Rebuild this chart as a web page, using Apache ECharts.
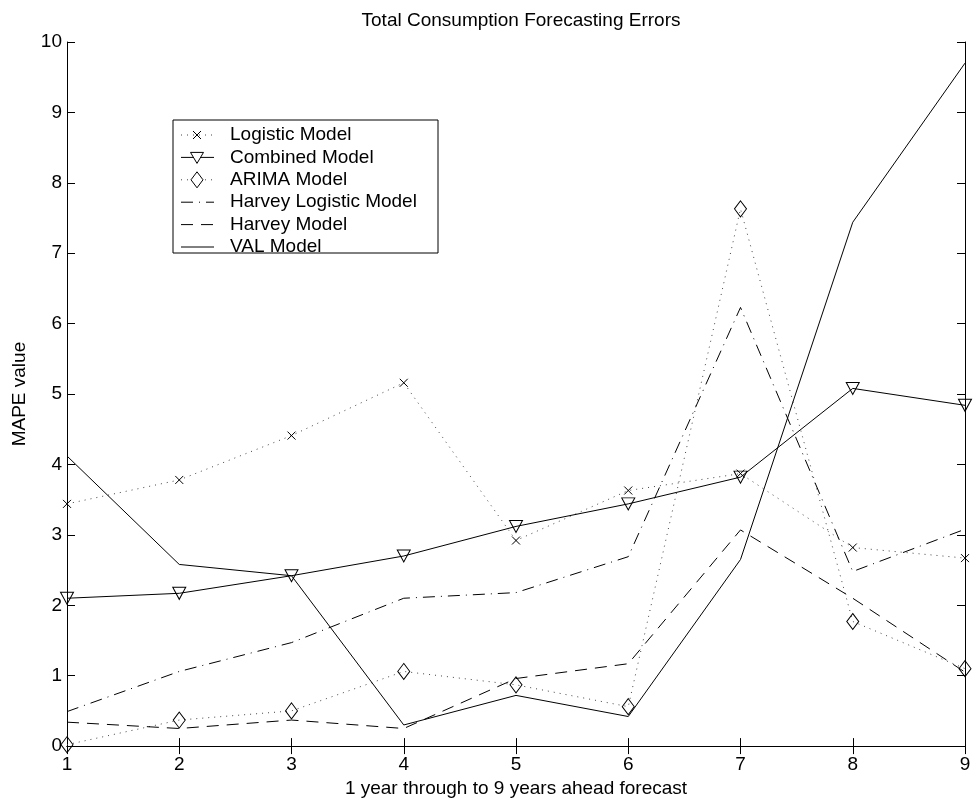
<!DOCTYPE html>
<html>
<head>
<meta charset="utf-8">
<script src="https://cdn.jsdelivr.net/npm/echarts@6/dist/echarts.min.js"></script>
<style>
html,body{margin:0;padding:0;background:#fff;}
#main{width:976px;height:803px;}
</style>
</head>
<body>
<div id="main"></div>
<script>
var xValues = [1, 2, 3, 4, 5, 6, 7, 8, 9];
var logistic = [3.44, 3.78, 4.41, 5.16, 2.92, 3.63, 3.87, 2.82, 2.67];
var combined = [2.10, 2.17, 2.42, 2.70, 3.12, 3.44, 3.82, 5.08, 4.84];
var arima = [0.02, 0.37, 0.50, 1.06, 0.87, 0.56, 7.63, 1.77, 1.10];
var harveyLogistic = [0.49, 1.06, 1.47, 2.10, 2.18, 2.69, 6.23, 2.48, 3.08];
var harvey = [0.34, 0.25, 0.37, 0.25, 0.96, 1.17, 3.07, 2.10, 1.05];
var val = [4.12, 2.58, 2.42, 0.30, 0.72, 0.42, 2.65, 7.44, 9.70];
var seriesNames = ['Logistic Model', 'Combined Model', 'ARIMA Model', 'Harvey Logistic Model', 'Harvey Model', 'VAL Model'];

function pairs(arr) { return xValues.map(function (x, i) { return [x, arr[i]]; }); }

var FONT = 'Liberation Sans, Arial, sans-serif';
var crossPath = 'path://M0,0 L10,10 M10,0 L0,10';
var triPath = 'path://M0,0 L10,0 L5,9 Z';

var styles = [
  { dash: [1, 5], color: '#444', symbol: crossPath, size: 8 },
  { dash: 'solid', color: '#000', symbol: triPath, size: [13, 12] },
  { dash: [1, 5], color: '#444', symbol: 'diamond', size: [12, 16] },
  { dash: [12, 6, 1, 6], color: '#000', symbol: 'none', size: 0 },
  { dash: [12, 8], color: '#000', symbol: 'none', size: 0 },
  { dash: 'solid', color: '#000', symbol: 'none', size: 0 }
];
var dataSets = [logistic, combined, arima, harveyLogistic, harvey, val];

var series = seriesNames.map(function (name, i) {
  var s = styles[i];
  return {
    name: name, type: 'line', data: pairs(dataSets[i]),
    symbol: s.symbol, symbolSize: s.size, showSymbol: s.symbol !== 'none',
    lineStyle: { color: s.color, width: 1, type: s.dash },
    itemStyle: { color: 'rgba(0,0,0,0)', borderColor: '#000', borderWidth: 1 },
    emphasis: { disabled: true }, animation: false, z: 3
  };
});

// Legend drawn as a boxed key (MATLAB-style)
var LX = 173, LY = 120, LW = 265, LH = 133, ROW = 22.4;
var legendEls = [{
  type: 'rect', shape: { x: LX, y: LY, width: LW, height: LH },
  style: { fill: '#fff', stroke: '#000', lineWidth: 1 }, z: 10
}];
seriesNames.forEach(function (name, i) {
  var s = styles[i];
  var cy = LY + 15 + i * ROW;
  var cx = 197;
  legendEls.push({
    type: 'line', shape: { x1: 181, y1: cy, x2: 214, y2: cy },
    style: { stroke: s.color, lineWidth: 1, lineDash: s.dash === 'solid' ? null : s.dash }, z: 11
  });
  if (i === 0) {
    legendEls.push({ type: 'polyline', shape: { points: [[cx - 4, cy - 4], [cx + 4, cy + 4]] }, style: { stroke: '#000', lineWidth: 1, fill: null }, z: 12 });
    legendEls.push({ type: 'polyline', shape: { points: [[cx + 4, cy - 4], [cx - 4, cy + 4]] }, style: { stroke: '#000', lineWidth: 1, fill: null }, z: 12 });
  } else if (i === 1) {
    legendEls.push({ type: 'polygon', shape: { points: [[cx - 6.5, cy - 5], [cx + 6.5, cy - 5], [cx, cy + 6]] }, style: { stroke: '#000', lineWidth: 1, fill: '#fff' }, z: 12 });
  } else if (i === 2) {
    legendEls.push({ type: 'polygon', shape: { points: [[cx, cy - 8], [cx + 6, cy], [cx, cy + 8], [cx - 6, cy]] }, style: { stroke: '#000', lineWidth: 1, fill: '#fff' }, z: 12 });
  }
  legendEls.push({
    type: 'text', x: 230, y: cy,
    style: { text: name, fontFamily: FONT, fontSize: 19, fill: '#000', textVerticalAlign: 'middle', verticalAlign: 'middle' }, z: 12
  });
});

var chart = echarts.init(document.getElementById('main'));
chart.setOption({
  backgroundColor: '#fff',
  animation: false,
  title: { text: 'Total Consumption Forecasting Errors', left: 516, top: 6, textAlign: 'center',
    textStyle: { fontFamily: FONT, fontSize: 19, fontWeight: 'normal', color: '#000' } },
  grid: { left: 67, right: 11, top: 42, bottom: 55, show: false },
  xAxis: [{
    type: 'value', min: 1, max: 9, interval: 1, position: 'bottom',
    name: '1 year through to 9 years ahead forecast', nameLocation: 'middle', nameGap: 32,
    nameTextStyle: { fontFamily: FONT, fontSize: 19, color: '#000' },
    axisLine: { show: true, lineStyle: { color: '#000', width: 1 } },
    axisTick: { show: true, inside: true, length: 8, lineStyle: { color: '#000' } },
    axisLabel: { fontFamily: FONT, fontSize: 19, color: '#000', margin: 9 },
    splitLine: { show: false }
  }, {
    type: 'value', min: 1, max: 9, interval: 1, position: 'top',
    axisLine: { show: true, lineStyle: { color: '#000', width: 1 } },
    axisTick: { show: true, inside: true, length: 8, lineStyle: { color: '#000' } },
    axisLabel: { show: false }, splitLine: { show: false }
  }],
  yAxis: [{
    type: 'value', min: 0, max: 10, interval: 1, position: 'left',
    name: 'MAPE value', nameLocation: 'middle', nameGap: 38, nameRotate: 90,
    nameTextStyle: { fontFamily: FONT, fontSize: 19, color: '#000' },
    axisLine: { show: true, lineStyle: { color: '#000', width: 1 } },
    axisTick: { show: true, inside: true, length: 8, lineStyle: { color: '#000' } },
    axisLabel: { fontFamily: FONT, fontSize: 19, color: '#000', margin: 5 },
    splitLine: { show: false }
  }, {
    type: 'value', min: 0, max: 10, interval: 1, position: 'right',
    axisLine: { show: true, lineStyle: { color: '#000', width: 1 } },
    axisTick: { show: true, inside: true, length: 8, lineStyle: { color: '#000' } },
    axisLabel: { show: false }, splitLine: { show: false }
  }],
  graphic: legendEls,
  series: series
});
</script>
</body>
</html>
